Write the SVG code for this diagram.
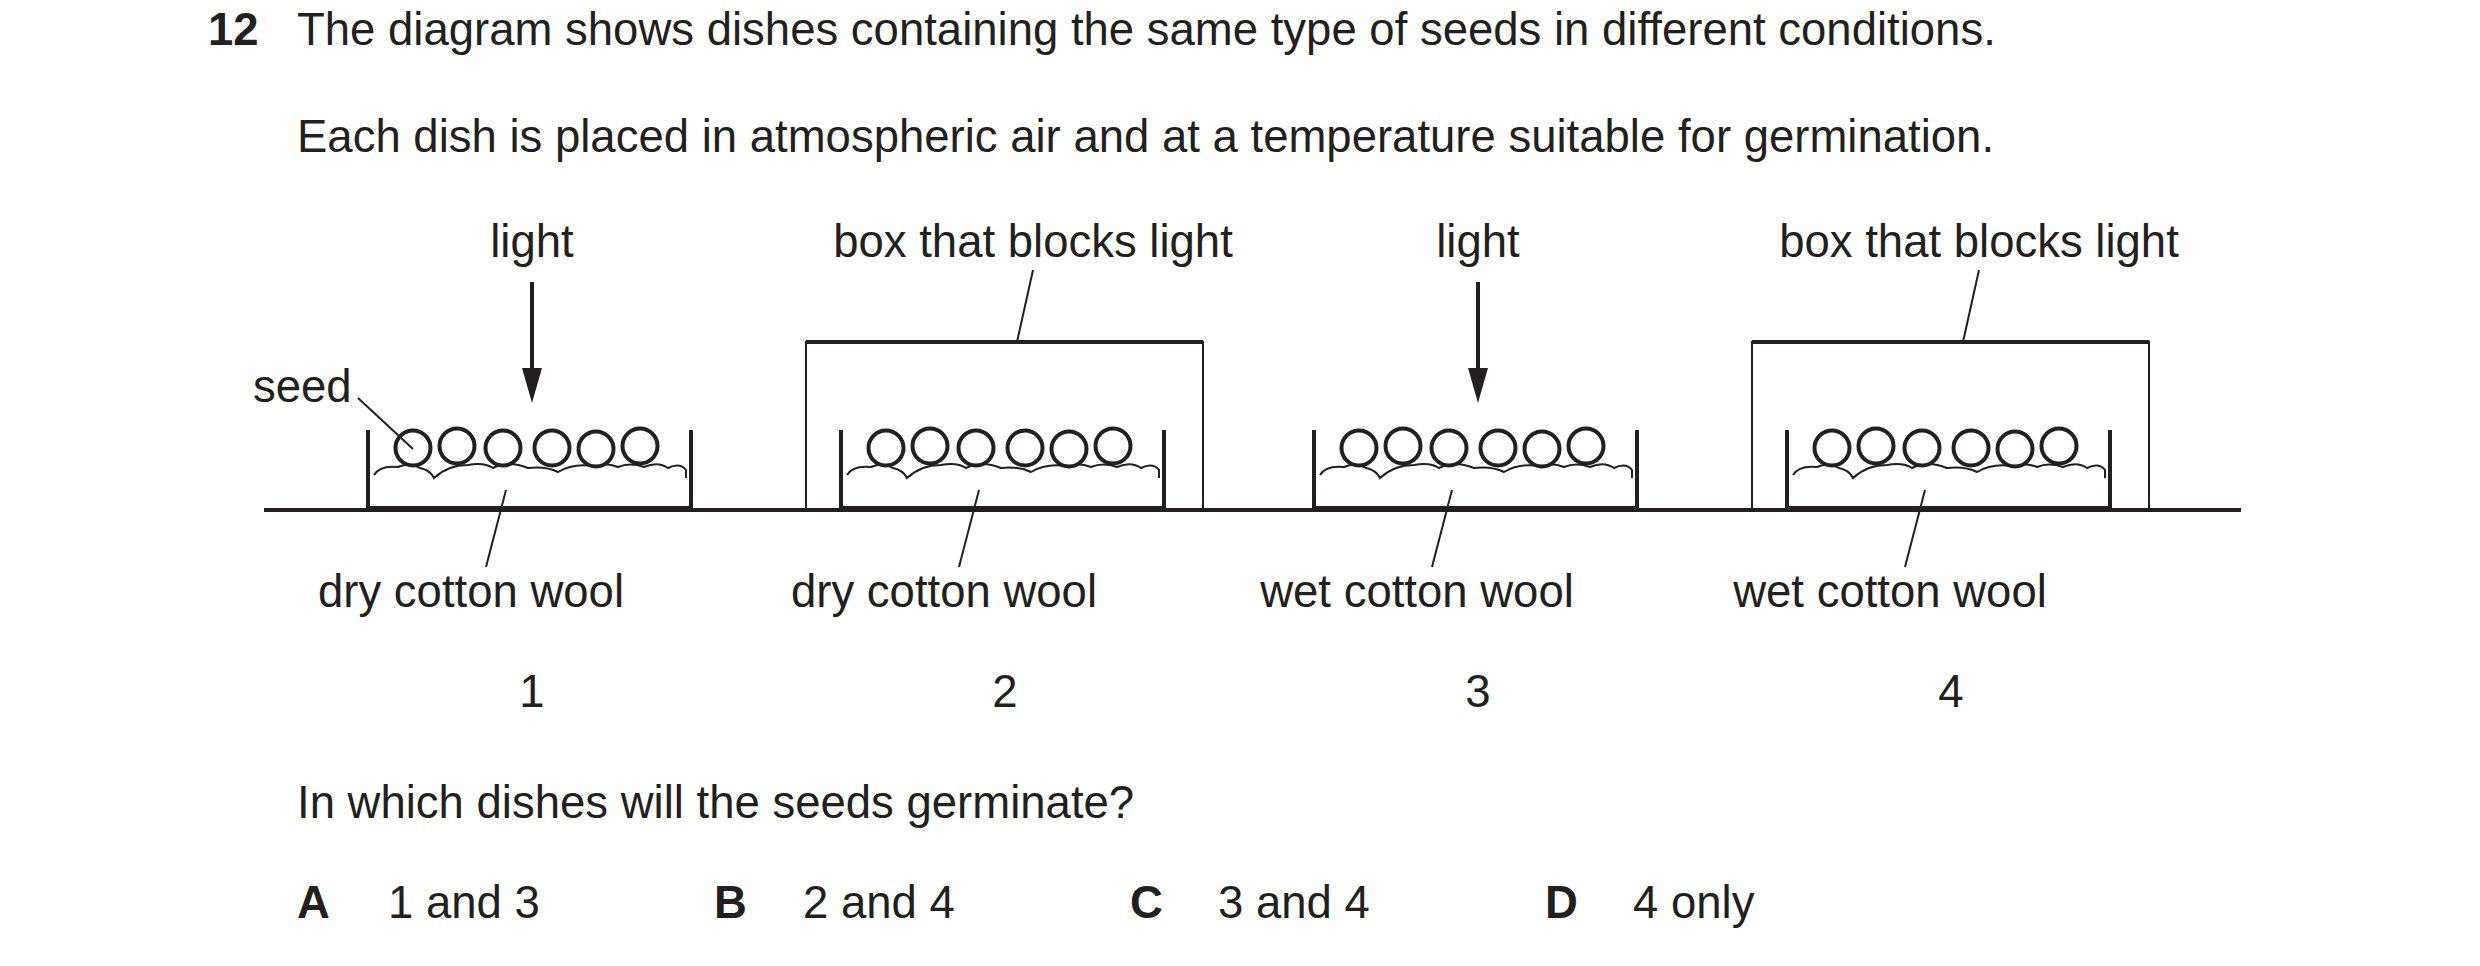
<svg xmlns="http://www.w3.org/2000/svg" xmlns:xlink="http://www.w3.org/1999/xlink" width="2480" height="966" viewBox="0 0 2480 966">
<style>
text{font-family:"Liberation Sans",Arial,sans-serif;font-size:45.5px;fill:#231f20}
.b{font-weight:bold}
.m{text-anchor:middle}
.ln{stroke:#231f20;fill:none;stroke-width:2}
.th{stroke:#231f20;fill:none;stroke-width:4}
.sd{stroke:#231f20;fill:#fff;stroke-width:4}
</style>
<defs>
<g id="dish">
<path class="th" d="M0,430 V508 H323 V430"/>
<path class="ln" stroke-width="3.5" d="M6,475 Q12,465 30,467 Q42,462 52,468 Q62,470 66,478 Q80,465 100,465 Q116,462 125,468 Q140,460 160,468 Q178,466 190,472 Q205,463 225,466 Q238,462 250,467 Q262,462 276,467 Q290,461 300,468 Q312,462 318,470 L318,478"/>
<circle class="sd" cx="45" cy="448" r="17.5"/>
<circle class="sd" cx="89" cy="446" r="17.5"/>
<circle class="sd" cx="135" cy="448" r="17.5"/>
<circle class="sd" cx="184" cy="448" r="17.5"/>
<circle class="sd" cx="228" cy="449" r="17.5"/>
<circle class="sd" cx="272" cy="446" r="17.5"/>
</g>
<g id="box">
<path class="ln" stroke-width="3" d="M0,508 V342 H397 V508"/>
<path class="th" d="M0,342 H397"/>
</g>
</defs>
<rect width="2480" height="966" fill="#fff"/>
<g id="question">
<text x="208" y="45" class="b">12</text>
<text x="297" y="45">The diagram shows dishes containing the same type of seeds in different conditions.</text>
<text x="297" y="152">Each dish is placed in atmospheric air and at a temperature suitable for germination.</text>
</g>
<g id="ground"><line class="th" x1="264" y1="510" x2="2241" y2="510"/></g>
<g id="dish1"><use xlink:href="#dish" x="368"/><text x="471" y="607" class="m">dry cotton wool</text><text x="532" y="707" class="m">1</text>
<text x="532" y="257" class="m">light</text><text x="253" y="402">seed</text></g>
<g id="dish2"><use xlink:href="#dish" x="841"/><use xlink:href="#box" x="806"/><text x="944" y="607" class="m">dry cotton wool</text><text x="1005" y="707" class="m">2</text><text x="1033" y="257" class="m">box that blocks light</text></g>
<g id="dish3"><use xlink:href="#dish" x="1314"/><text x="1417" y="607" class="m">wet cotton wool</text><text x="1478" y="707" class="m">3</text><text x="1478" y="257" class="m">light</text></g>
<g id="dish4"><use xlink:href="#dish" x="1787"/><use xlink:href="#box" x="1752"/><text x="1890" y="607" class="m">wet cotton wool</text><text x="1951" y="707" class="m">4</text><text x="1979" y="257" class="m">box that blocks light</text></g>
<g id="connectors">
<line class="th" x1="532" y1="282" x2="532" y2="375"/><path d="M522,368 L542,368 L532,403 Z" fill="#231f20"/>
<line class="th" x1="1478" y1="282" x2="1478" y2="375"/><path d="M1468,368 L1488,368 L1478,403 Z" fill="#231f20"/>
<line class="ln" x1="358" y1="398" x2="413" y2="449"/>
<line class="ln" x1="506" y1="490" x2="486" y2="567"/>
<line class="ln" x1="979" y1="490" x2="959" y2="567"/>
<line class="ln" x1="1452" y1="490" x2="1432" y2="567"/>
<line class="ln" x1="1925" y1="490" x2="1905" y2="567"/>
<line class="ln" x1="1033" y1="270" x2="1017" y2="342"/>
<line class="ln" x1="1979" y1="270" x2="1963" y2="342"/>
</g>
<g id="answers">
<text x="297" y="818">In which dishes will the seeds germinate?</text>
<text x="297" y="918" class="b">A</text><text x="388" y="918">1 and 3</text>
<text x="714" y="918" class="b">B</text><text x="803" y="918">2 and 4</text>
<text x="1130" y="918" class="b">C</text><text x="1218" y="918">3 and 4</text>
<text x="1545" y="918" class="b">D</text><text x="1633" y="918">4 only</text>
</g>
</svg>
